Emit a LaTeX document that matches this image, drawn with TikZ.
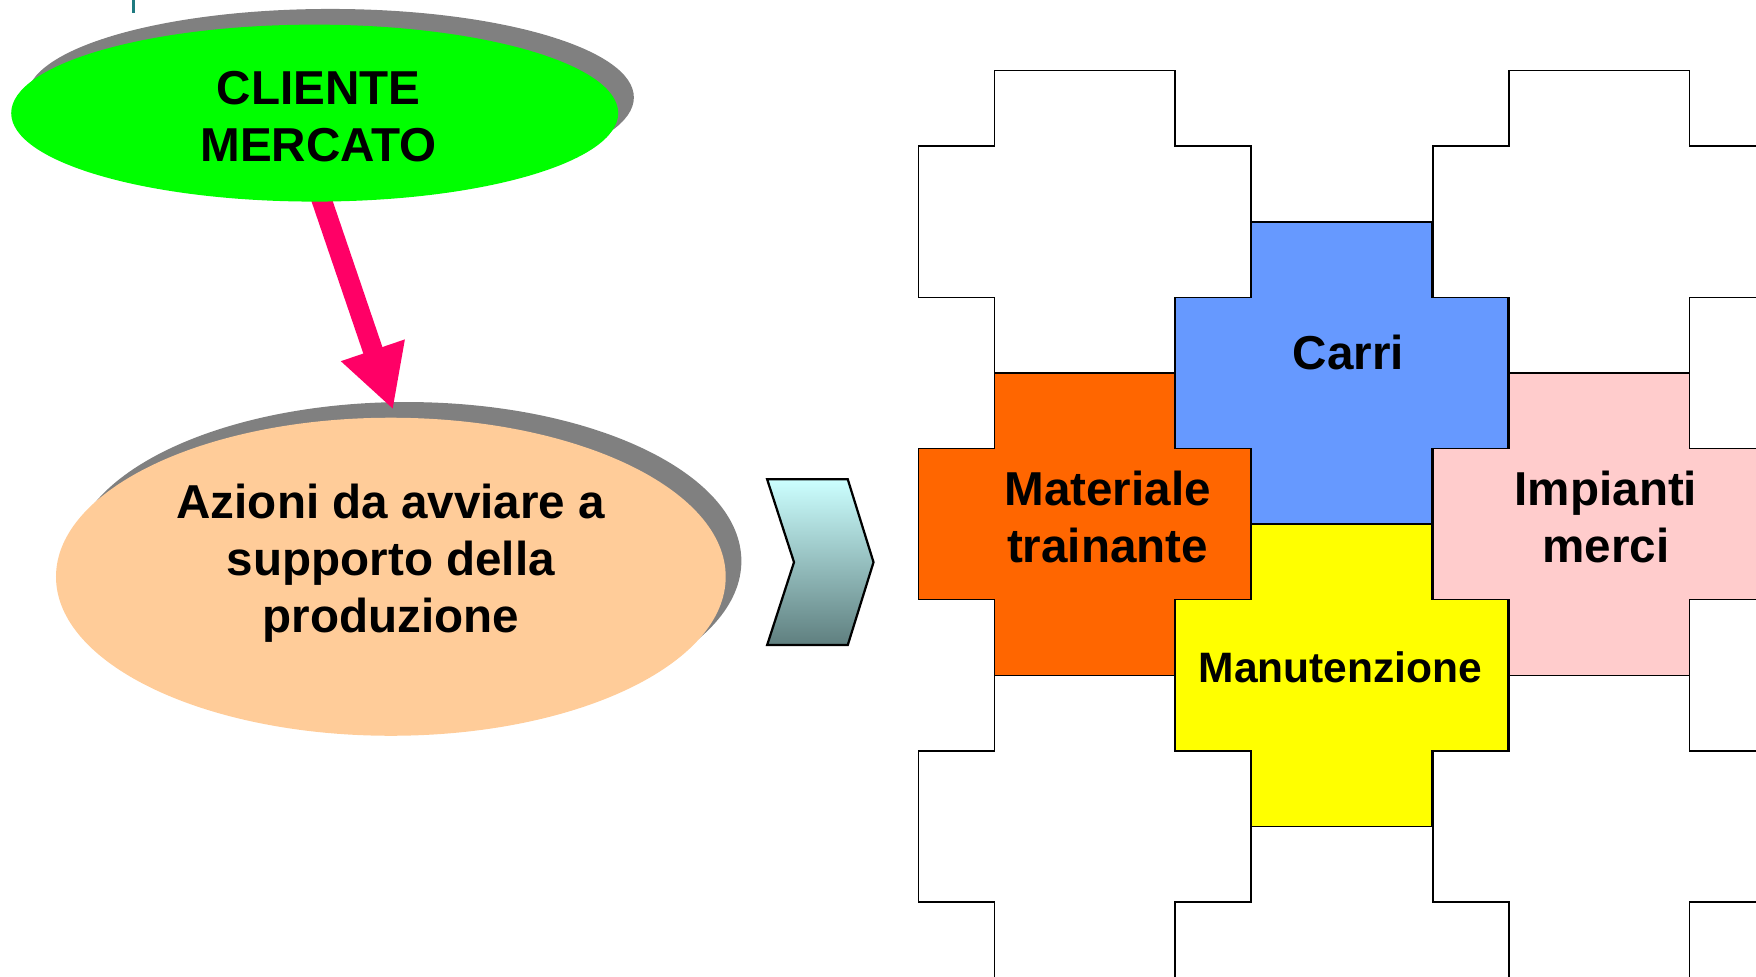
\documentclass[tikz,border=0pt]{standalone}
\usepackage{fontspec}
\setmainfont{Liberation Sans}
\usetikzlibrary{shapes.geometric,shadows,arrows.meta,calc}
\definecolor{cligreen}{HTML}{00FF00}
\definecolor{peachfill}{HTML}{FFCC99}
\definecolor{shadowgray}{HTML}{808080}
\definecolor{arrowpink}{HTML}{FF0066}
\definecolor{carriblue}{HTML}{6699FF}
\definecolor{matorange}{HTML}{FF6600}
\definecolor{imppink}{HTML}{FFCCCC}
\definecolor{manyellow}{HTML}{FFFF00}
\definecolor{chevtop}{HTML}{CCFFFF}
\definecolor{chevbot}{HTML}{5F7F7F}
\definecolor{tealline}{HTML}{1F7A80}
\begin{document}
\begin{tikzpicture}[x=1pt,y=-1pt,
  bubble/.style={ellipse, inner sep=0pt, drop shadow={shadow xshift=14pt, shadow yshift=14pt, opacity=1, fill=shadowgray}},
  lbl/.style={font=\bfseries\fontsize{42.5}{51}\selectfont, align=center, inner sep=0pt},
  smalllbl/.style={font=\bfseries\fontsize{38}{46}\selectfont, inner sep=0pt},
  piece/.style={draw=black, line width=1.4pt},
  cross/.pic={\path[pic actions] (68,0) -- (229,0) -- (229,67.5) -- (297,67.5) -- (297,202.5) -- (229,202.5) -- (229,270) -- (68,270) -- (68,202.5) -- (0,202.5) -- (0,67.5) -- (68,67.5) -- cycle;},
  pointer/.style={line width=18pt, arrowpink, -{Triangle[width=56pt,length=56pt]}},
  chevron/.style={top color=chevtop, bottom color=chevbot, draw=black, line width=2pt}
]
\useasboundingbox (0,0) rectangle (1568,872);
\clip (0,0) rectangle (1568,872);

% stray mark top-left
\draw[tealline, line width=2.4pt] (119.5,0) -- (119.5,12);

% puzzle pieces
\pic[piece, fill=white] at (820,63) {cross};
\pic[piece, fill=white] at (1279.5,63) {cross};
\pic[piece, fill=carriblue] at (1049.5,198) {cross};
\pic[piece, fill=matorange] at (820,333) {cross};
\pic[piece, fill=imppink] at (1279.5,333) {cross};
\pic[piece, fill=manyellow] at (1049.5,468) {cross};
\pic[piece, fill=white] at (820,603) {cross};
\pic[piece, fill=white] at (1279.5,603) {cross};

\node[lbl] (carritxt) at (1204,315) {Carri};
\node[lbl] (mattxt) at (989,462) {Materiale\\trainante};
\node[lbl] (imptxt) at (1434,462) {Impianti\\merci};
\node[smalllbl] (mantxt) at (1197,596) {Manutenzione};

% chevron
\shadedraw[chevron] (685,428) -- (757,428) -- (780,502) -- (757,576) -- (685,576) -- (709,502) -- cycle;

% lower ellipse
\node[bubble, fill=peachfill, minimum width=598pt, minimum height=284pt] (actions) at (349,515) {};
\node[lbl] (actionstxt) at (349,503) {Azioni da avviare a\\supporto della\\produzione};

% arrow
\coordinate (arrowstart) at (285,172);
\draw[pointer] (arrowstart) -- ([xshift=2pt,yshift=7pt]actions.north);

% upper ellipse
\node[bubble, fill=cligreen, minimum width=542pt, minimum height=158pt] (cliente) at (281,101) {};
\node[lbl] (clientetxt) at (284.5,104.5) {CLIENTE\\MERCATO};
\end{tikzpicture}
\end{document}
